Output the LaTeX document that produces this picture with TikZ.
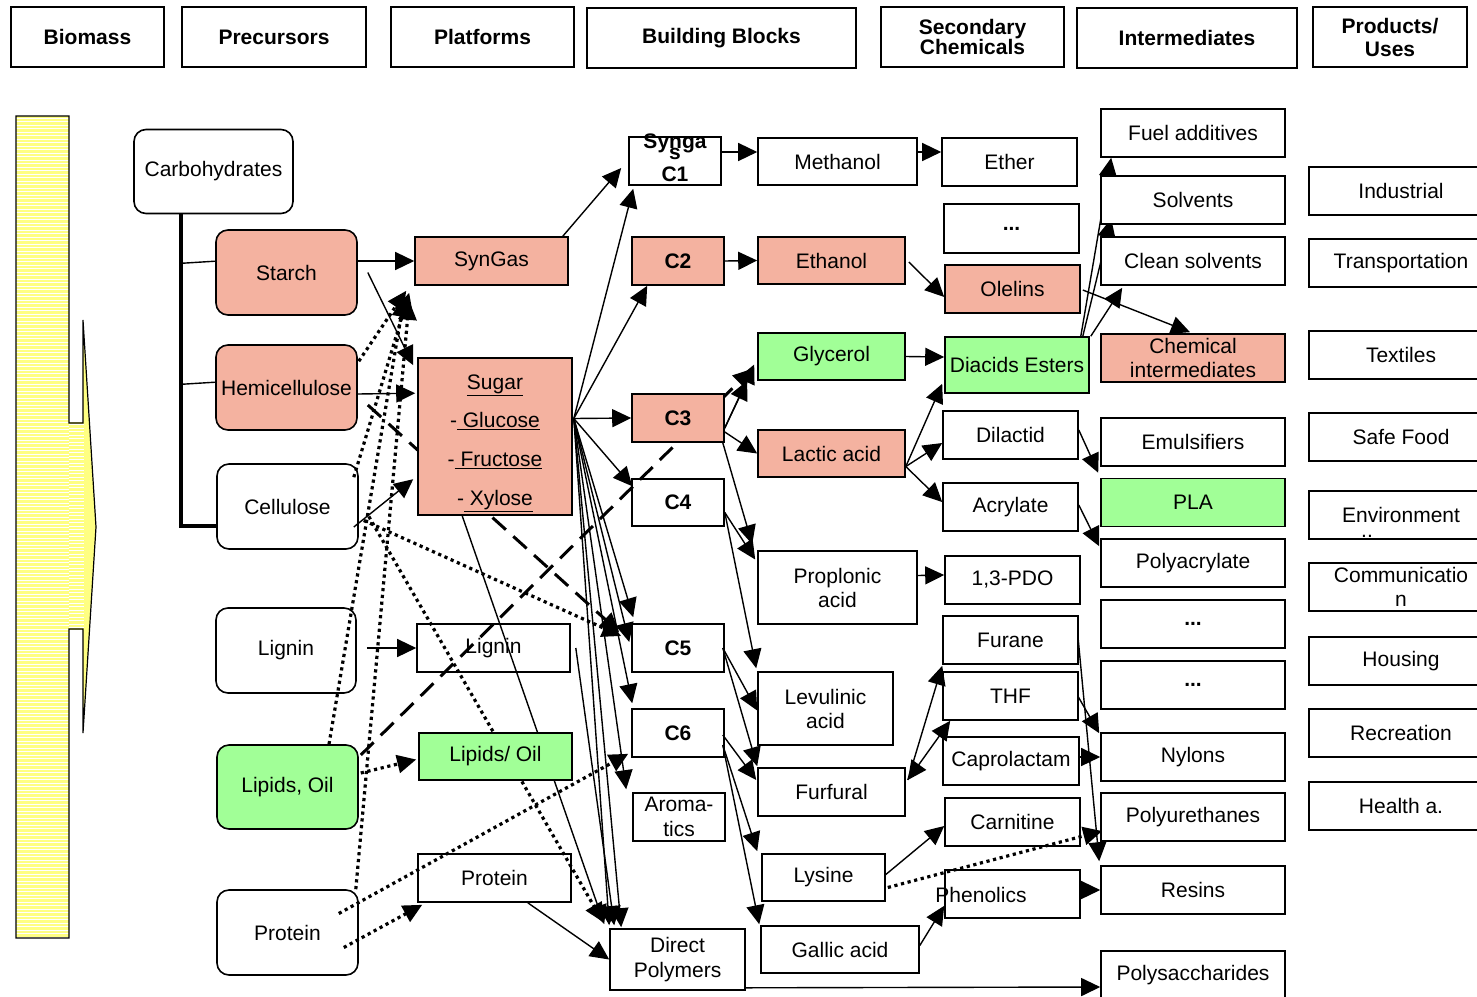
\documentclass[tikz,border=0pt]{standalone}
\usepackage{fontspec}
\setmainfont{Liberation Sans}
\usetikzlibrary{arrows.meta,calc,backgrounds}
\definecolor{peach}{RGB}{244,178,160}
\definecolor{leaf}{RGB}{161,255,151}
\definecolor{straw}{RGB}{255,255,130}
\tikzstyle{header} = [draw, rectangle, line width=1.6pt, font=\bfseries\fontsize{21}{21}\selectfont, align=center, minimum height=60pt, inner sep=0pt]
\tikzstyle{feed} = [draw, rectangle, rounded corners=12pt, line width=1.6pt, minimum width=141pt, minimum height=85pt, inner sep=0pt]
\tikzstyle{chem} = [draw, rectangle, line width=1.6pt, minimum height=48pt, inner sep=0pt, align=center]
\tikzstyle{block} = [chem, font=\bfseries\fontsize{21}{24}\selectfont, minimum width=92pt]
\tikzstyle{link} = [line width=1.4pt, -{Triangle[length=19pt,width=18pt]}]
\tikzstyle{twoway} = [line width=1.4pt, {Triangle[length=19pt,width=18pt]}-{Triangle[length=19pt,width=18pt]}]
\tikzstyle{dotlink} = [link, line width=3.2pt, dash pattern=on 3.2pt off 3.6pt]
\tikzstyle{dashlink} = [link, line width=3pt, dash pattern=on 18pt off 10pt]

\begin{document}
\begin{tikzpicture}[x=1pt, y=-1pt, every node/.style={font=\fontsize{21}{24}\selectfont}]
\useasboundingbox (0,0) rectangle (1477,996);
\clip (0,0) rectangle (1477,996);

% column heads
\node[header, minimum width=153pt] (hbio) at (87.5,37) {Biomass};
\node[header, minimum width=184pt] (hpre) at (274,37) {Precursors};
\node[header, minimum width=183pt] (hpla) at (482.5,37) {Platforms};
\node[header, minimum width=269pt] (hbb) at (721.5,38) {Building Blocks};
\node[header, minimum width=183pt, font=\bfseries\fontsize{21}{20}\selectfont] (hsec) at (972.5,37) {Secondary\\Chemicals};
\node[header, minimum width=220pt] (hint) at (1187,38) {Intermediates};
\node[header, minimum width=154pt, font=\bfseries\fontsize{21}{23}\selectfont] (hprod) at (1390,37) {Products/\\Uses};

% big arrow on the left
\fill[straw] (16,116) rectangle (69,938);
\fill[straw] (68,422) rectangle (84,630);
\fill[straw] (83,320) -- (96,527) -- (83,733) -- cycle;
\foreach \yy in {118,121.5,...,938}
  \draw[white, line width=0.7pt] (16,\yy) -- (69,\yy);
\foreach \yy in {424.5,428,...,628}
  \draw[white, line width=0.7pt] (69,\yy) -- (84,\yy);
\draw[line width=1.2pt]
  (16,116) -- (69,116) -- (69,423) -- (83,423) -- (83,320) -- (96,527) -- (83,733)
  -- (83,629) -- (69,629) -- (69,938) -- (16,938) -- cycle;

% biomass
\node[feed, minimum width=159pt, minimum height=84pt] (carb) at (213.5,171.5) {Carbohydrates};
\node[feed, fill=peach] (starch) at (286.5,272.5) {Starch};
\node[feed, fill=peach] (hemi) at (286.5,387.5) {Hemicellulose};
\node[feed] (cell) at (287.5,506.5) {Cellulose};
\node[feed, minimum width=140pt] (lign) at (286,650.5) {Lignin};
\node[feed, fill=leaf, minimum height=84pt] (lipid) at (287.5,787) {Lipids, Oil};
\node[feed] (prot) at (287.5,932.5) {Protein};

% precursors
\node[chem, fill=peach, minimum width=153pt] (syngas) at (491.5,261) {SynGas};
\node[chem, fill=peach, minimum width=154pt, minimum height=157pt] (sugar) at (495,436.5) {};
\node[align=center, inner sep=0pt, font=\fontsize{21}{38.7}\selectfont] (sugartext) at (495,443)
  {\underline{Sugar}\\-\underline{ Glucose}\\-\underline{ Fructose}\\-\underline{ Xylose}};
\node[chem, minimum width=153pt] (lignp) at (493.5,648) {Lignin};
\node[chem, fill=leaf, minimum width=153pt, minimum height=47pt] (lipp) at (495.5,756.5) {Lipids/ Oil};
\node[chem, minimum width=153pt] (protp) at (494.5,878) {Protein};

% building blocks
\node[block] (cone) at (675,161) {};
\node[font=\bfseries\fontsize{21}{24}\selectfont, anchor=base, inner sep=0pt] (conea) at (675,148) {Synga};
\node[font=\bfseries\fontsize{21}{24}\selectfont, anchor=base, inner sep=0pt] (coneb) at (675,159) {s};
\node[font=\bfseries\fontsize{21}{24}\selectfont, anchor=base, inner sep=0pt] (conec) at (675,181) {C1};
\node[block, fill=peach] (ctwo) at (678,261) {C2};
\node[block, fill=peach] (cthree) at (678,418) {C3};
\node[block, minimum height=47pt] (cfour) at (678,502.5) {C4};
\node[block] (cfive) at (678,648) {C5};
\node[block] (csix) at (678,733) {C6};
\node[chem, minimum width=92pt, font=\fontsize{21}{25}\selectfont] (arom) at (679,817) {Aroma-\\tics};
\node[chem, minimum width=135pt, minimum height=61pt, font=\fontsize{21}{25}\selectfont] (dpoly) at (677.5,959.5) {Direct\\Polymers};

% secondary chemicals
\node[chem, minimum width=159pt, minimum height=47pt] (meth) at (837.5,161.5) {Methanol};
\node[chem, fill=peach, minimum width=147pt, minimum height=47pt] (eth) at (831.5,260.5) {Ethanol};
\node[chem, fill=leaf, minimum width=147pt, minimum height=47pt] (glyc) at (831.5,356.5) {Glycerol};
\node[chem, fill=peach, minimum width=147pt, minimum height=47pt] (lact) at (831.5,453.5) {Lactic acid};
\node[chem, minimum width=159pt, minimum height=73pt] (prop) at (837.5,587.5) {Proplonic\\acid};
\node[chem, minimum width=135pt, minimum height=73pt] (levu) at (825.5,708.5) {Levulinic\\acid};
\node[chem, minimum width=147pt] (furf) at (831.5,792) {Furfural};
\node[chem, minimum width=123pt, minimum height=47pt] (lys) at (823.5,877.5) {Lysine};
\node[chem, minimum width=158pt, minimum height=47pt] (gall) at (840,949.5) {Gallic acid};

\node[chem, minimum width=135pt] (ether) at (1009.5,162) {Ether};
\node[chem, minimum width=135pt, minimum height=49pt] (dotsa) at (1011.5,228.5) {\textbf{...}};
\node[chem, fill=peach, minimum width=135pt] (olel) at (1012.5,289) {Olelins};
\node[chem, fill=leaf, minimum width=144pt, minimum height=56pt] (diac) at (1017,365) {Diacids Esters};
\node[chem, minimum width=135pt] (dilac) at (1010.5,435) {Dilactid};
\node[chem, minimum width=135pt] (acryl) at (1010.5,507) {Acrylate};
\node[chem, minimum width=135pt] (pdo) at (1012.5,580) {1,3-PDO};
\node[chem, minimum width=135pt] (furan) at (1010.5,640) {Furane};
\node[chem, minimum width=135pt] (thf) at (1010.5,696) {THF};
\node[chem, minimum width=136pt] (capro) at (1011,761) {Caprolactam};
\node[chem, minimum width=135pt] (carn) at (1012.5,822) {Carnitine};
\node[chem, minimum width=135pt] (phen) at (1012.5,894) {};
\node (phenlabel) at (981,895) {Phenolics};

% intermediates
\foreach \name/\ypos/\col/\txt in {fuel/133/white/Fuel additives, solv/200/white/Solvents,
    clean/261/white/Clean solvents, chemi/358/peach/{Chemical\\intermediates},
    emul/442/white/Emulsifiers, pla/502.5/leaf/PLA, polya/563/white/Polyacrylate,
    nyl/757/white/Nylons, polyu/817/white/Polyurethanes, resin/890/white/Resins,
    polys/975/white/Polysaccharides}
  \node[chem, fill=\col, minimum width=184pt] (\name) at (1193,\ypos) {\txt};
\node[chem, minimum width=184pt] (dotsb) at (1193,624) {\textbf{...}};
\node[chem, minimum width=184pt] (dotsc) at (1193,685) {\textbf{...}};

% products / uses
\foreach \name/\ypos/\txt in {indus/191/Industrial, trans/263/Transportation, textl/355/Textiles,
    food/437/Safe Food, env/515/Environment, comm/587/{Communicatio\\n}, hous/661/Housing,
    recr/733/Recreation, health/806/Health a.}
  \node[chem, minimum width=184pt] (\name) at (1401,\ypos) {\txt};
\node[inner sep=0pt, anchor=base] (envdots) at (1367,537) {..};

\begin{pgfonlayer}{background}
% carbohydrate bracket
\draw[line width=4.5pt] ($(carb.south west)+(48,0)$) |- ($(cell.west)+(2,19.5)$);
\draw[line width=1.4pt] ($(carb.south west)+(48,49)$) -- ($(starch.west)+(3,-11.5)$);
\draw[line width=1.4pt] ($(carb.south west)+(48,170)$) -- ($(hemi.west)+(3,-5.5)$);

% biomass to precursors
\draw[link] ($(starch.east)+(0,-11.5)$) -- (syngas.west);
\draw[link] ($(starch.east)+(10,0)$) -- ($(sugar.north west)+(-4,8)$);
\draw[link] ($(hemi.east)+(0,6.5)$) -- ($(sugar.north west)+(-2,36)$);
\draw[link] ($(cell.east)+(-5,20.5)$) -- ($(sugar.north west)+(-4,122)$);
\draw[link] ($(lign.east)+(10,-2.5)$) -- (lignp.west);
\draw[dotlink] ($(hemi.north east)+(1,17)$) -- ($(syngas.south west)+(-8,5)$);
\draw[dotlink] ($(cell.north east)+(-5,14)$) -- ($(syngas.south west)+(-5,7)$);
\draw[dotlink] ($(lipid.north)+(41.5,0)$) -- ($(syngas.south west)+(-10,12)$);
\draw[dotlink] ($(prot.north east)+(-3,0)$) -- ($(syngas.south west)+(-5,15)$);
\draw[dotlink] ($(lipid.east)+(2,-14)$) -- ($(lipp.west)+(-2,3)$);
\draw[dotlink] ($(prot.east)+(-15,15)$) -- ($(protp.south west)+(5,2)$);
\draw[dotlink] ($(prot.east)+(-20,-19)$) -- ($(csix.south west)+(-3,-4)$);
\draw[dotlink] ($(cell.east)+(5,14)$) -- ($(cfive.west)+(-10,-12)$);
\draw[dotlink] ($(cell.east)+(10,10)$) -- ($(dpoly.north west)+(-6,-6)$);
\draw[dashlink] ($(hemi.east)+(10,17.5)$) -- ($(cfive.west)+(-12,-16)$);
\draw[dashlink] ($(lipid.east)+(2,-32)$) -- ($(glyc.south west)+(-5,-12)$);

% precursors to building blocks
\draw[link] ($(syngas.north east)+(-6,0)$) -- ($(cone.west)+(-7,7)$);
\coordinate (fan) at ($(sugar.east)+(1,-18)$);
\draw[link] (fan) -- ($(cone.south west)+(5,3)$);
\draw[link] (fan) -- ($(ctwo.south west)+(16,0)$);
\draw[link] (fan) -- (cthree.west);
\draw[link] (fan) -- ($(cfour.north west)+(1,8)$);
\draw[link] (fan) -- ($(cfive.north west)+(2,-6)$);
\draw[link] (fan) -- ($(cfive.west)+(-2,-6)$);
\draw[link] (fan) -- ($(csix.north west)+(1,-5)$);
\draw[link] (fan) -- ($(arom.north west)+(-6,-3)$);
\draw[link] (fan) -- ($(dpoly.north west)+(0,-3)$);
\draw[link] (fan) -- ($(dpoly.north west)+(12,-1)$);
\draw[link] ($(sugar.south west)+(45,0)$) -- ($(dpoly.north west)+(-5,-4)$);
\draw[link] ($(lignp.east)+(5,0)$) -- ($(dpoly.north west)+(5,-3)$);
\draw[link] ($(protp.south east)+(-44,0)$) -- (dpoly.west);
\draw[link] ($(dpoly.south east)+(0,-3)$) -- ($(polys.west)+(0,12)$);

% building blocks onwards
\draw[link] ($(cone.east)+(0,-9)$) -- ($(meth.west)+(0,-9.5)$);
\draw[link] ($(meth.east)+(0,-9.5)$) -- ($(ether.west)+(0,-10)$);
\draw[link] (ctwo.east) -- (eth.west);
\draw[link] ($(eth.east)+(3,1.5)$) -- ($(olel.west)+(0,8)$);
\draw[link] ($(olel.east)+(2,1)$) -- ($(chemi.north)+(-3,-1)$);
\draw[link] ($(diac.north east)+(-9,0)$) -- ($(fuel.south west)+(11,0)$);
\draw[link] ($(diac.north east)+(-7,0)$) -- ($(solv.south west)+(11,-6)$);
\draw[link] ($(diac.north east)+(1,0)$) -- ($(clean.south west)+(22,2)$);
\draw[link] (glyc.east) -- ($(diac.west)+(0,-8)$);
\draw[link] ($(cthree.east)+(0,10)$) -- ($(glyc.west)+(-3,8)$);
\draw[link] ($(cthree.east)+(-2,14)$) -- ($(glyc.south west)+(-10,0)$);
\draw[link] ($(cthree.east)+(0,14)$) -- (lact.west);
\draw[link] ($(lact.east)+(0,13)$) -- ($(diac.south west)+(-2,-10)$);
\draw[link] ($(lact.east)+(0,13)$) -- ($(dilac.west)+(0,8)$);
\draw[link] ($(lact.east)+(0,13)$) -- ($(acryl.west)+(0,-5)$);
\draw[link] ($(dilac.east)+(0,-5)$) -- ($(pla.north west)+(-2,-5)$);
\draw[link] ($(acryl.east)+(0,-2)$) -- ($(polya.north west)+(-1,8)$);
\draw[link] ($(cthree.south east)+(-2,0)$) -- ($(prop.north west)+(-5,-6)$);
\draw[link] ($(cfour.east)+(0,10)$) -- ($(prop.west)+(-2,-28)$);
\draw[link] ($(cfour.east)+(0,10)$) -- ($(levu.north west)+(-1,-3)$);
\draw[link] ($(cfive.east)+(-2,0)$) -- ($(levu.west)+(0,2)$);
\draw[link] ($(cfive.east)+(-2,0)$) -- ($(furf.north west)+(0,-1)$);
\draw[link] ($(csix.east)+(-2,2)$) -- ($(furf.west)+(-1,-12)$);
\draw[link] ($(csix.east)+(-2,12)$) -- ($(lys.north west)+(-4,-2)$);
\draw[link] ($(csix.east)+(-2,12)$) -- ($(gall.north west)+(-1,-1)$);
\draw[link] ($(prop.east)+(0,-12)$) -- ($(pdo.west)+(0,-5)$);
\draw[link] ($(furf.east)+(2,-12)$) -- ($(furan.south west)+(0,1)$);
\draw[twoway] ($(furf.east)+(2,-12)$) -- ($(thf.south west)+(8,0)$);
\draw[link] ($(lys.east)+(0,-3)$) -- ($(carn.west)+(0,4)$);
\draw[dotlink] ($(lys.east)+(2,10)$) -- ($(polyu.west)+(2,14)$);
\draw[link] ($(gall.east)+(0,-4)$) -- ($(phen.south west)+(0,-13)$);
\draw[link] ($(furan.east)+(-1,-5)$) -- ($(resin.north west)+(-1,-4)$);
\draw[link] ($(thf.east)+(-1,0)$) -- ($(nyl.north west)+(-1,1)$);
\draw[link] ($(capro.east)+(0,-4)$) -- (nyl.west);
\draw[link] ($(phen.east)+(0,-4)$) -- (resin.west);
\end{pgfonlayer}
\end{tikzpicture}
\end{document}
